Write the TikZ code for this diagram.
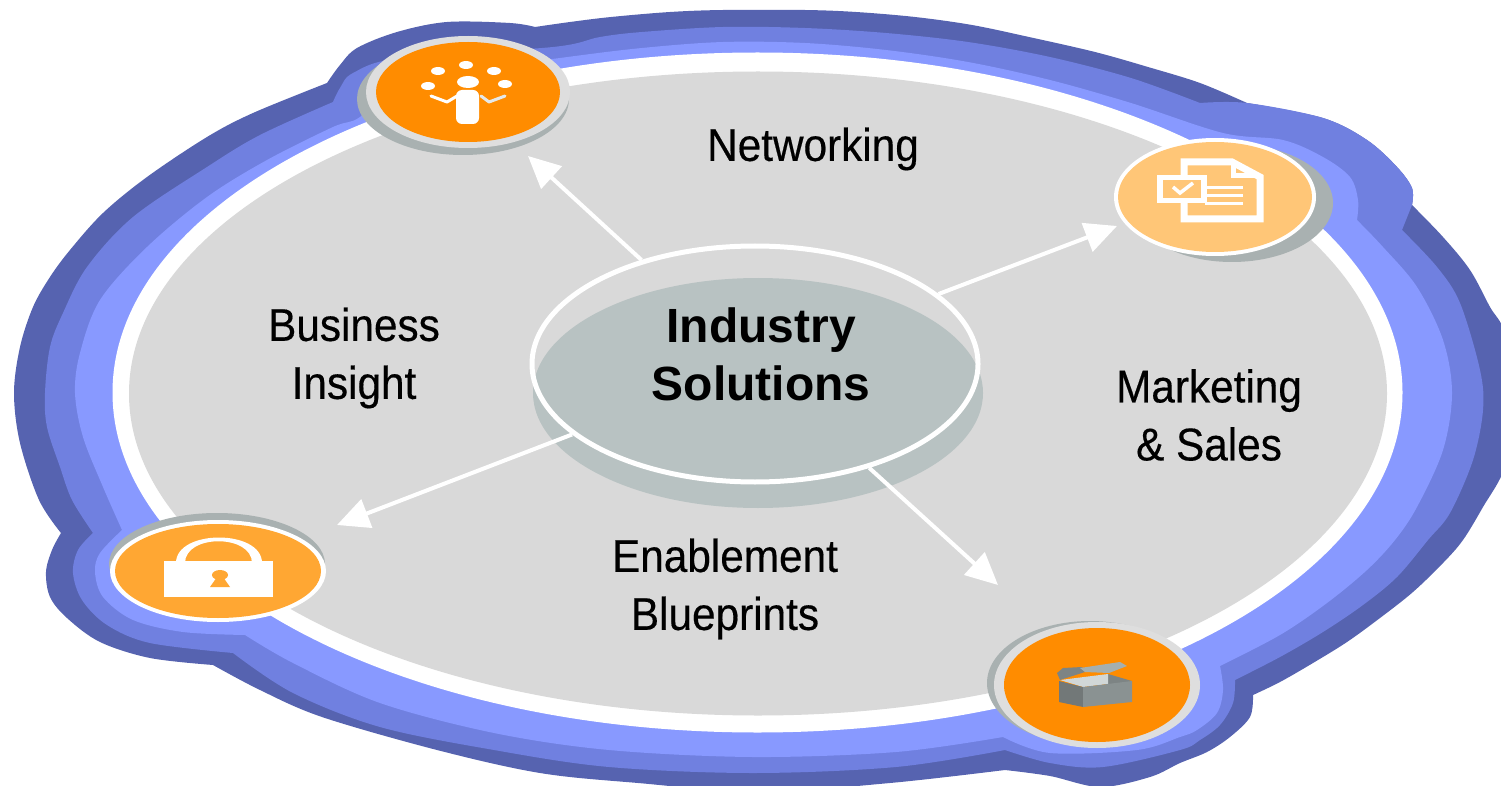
\documentclass[tikz,border=0pt]{standalone}
\usepackage{fontspec}
\setmainfont{Liberation Sans}
\newfontfamily\lblfont[FakeStretch=0.92,FakeBold=0.35]{Liberation Sans}
\usetikzlibrary{shapes.geometric,arrows.meta}
\definecolor{bandDark}{HTML}{5663B0}
\definecolor{bandMid}{HTML}{7080E0}
\definecolor{bandLight}{HTML}{8899FF}
\definecolor{plate}{HTML}{D9D9D9}
\definecolor{hubGray}{HTML}{B8C2C2}
\definecolor{shadowGray}{HTML}{A9B1B1}
\definecolor{rim}{HTML}{DEDEDE}
\definecolor{orA}{HTML}{FF8C00}
\definecolor{orB}{HTML}{FFC677}
\definecolor{orC}{HTML}{FFA733}
\tikzset{
  lbl/.style={font=\lblfont\fontsize{46}{58}\selectfont,align=center,text=black,inner sep=0pt},
  hubtxt/.style={font=\bfseries\fontsize{48}{58}\selectfont,align=center,text=black,inner sep=0pt},
  spoke/.style={draw=white,line width=4pt,-{Triangle[length=32pt,width=30pt]}},
  hubring/.style={ellipse,draw=white,line width=5pt,minimum width=446pt,minimum height=236pt,inner sep=0pt},
  wstroke/.style={draw=white,line join=miter},
  sm/.style={smooth,tension=.55}
}
\begin{document}
\begin{tikzpicture}[x=1pt,y=-1pt]
\useasboundingbox (0,0) rectangle (1501,786);
\clip (0,0) rectangle (1501,786);
% bands
\fill[bandDark]
  plot[sm] coordinates {(61,533)(39,500)(20,443)(14,393)(20,347)(33,307)(50,277)(70,250)(103,213)(147,177)(207,137)(253,113)(327,83)}
  -- plot[sm] coordinates {(327,83)(340,65)(357,48)(397,32)(447,22)(510,23)(535,27)}
  -- plot[sm] coordinates {(535,27)(570,22)(611,17)(670,12)(723,10)(805,10)(856,12)(915,17)(972,25)(1029,37)(1095,52)(1148,67)(1200,83)(1247,103)}
  -- plot[sm] coordinates {(1247,103)(1323,118)(1367,140)(1397,167)(1412,188)(1412,205)}
  -- plot[sm] coordinates {(1412,205)(1443,237)(1470,270)(1490,307)(1505,333)(1520,400)(1505,467)(1483,507)(1463,540)(1443,563)(1413,592)(1380,618)(1347,642)(1313,663)(1280,682)(1253,695)}
  -- plot[sm] coordinates {(1253,695)(1250,717)(1230,737)(1207,752)(1180,763)(1150,777)(1100,787)(1050,776)(1005,770)}
  -- plot[sm] coordinates {(1005,770)(890,783)(760,792)(638,783)(540,773)(437,750)(322,717)(260,690)(213,665)}
  -- plot[sm] coordinates {(213,665)(150,658)(100,642)(67,618)(50,597)(46,572)(52,550)(61,533)} -- cycle;
\fill[bandMid]
  plot[sm] coordinates {(93,533)(72,500)(60,467)(47,427)(45,393)(50,347)(63,313)(87,267)(133,217)(207,167)(260,135)(333,102)}
  -- plot[sm] coordinates {(333,102)(340,88)(353,73)(400,58)(553,47)(600,37)(642,32)(723,27)(805,28)(886,33)(968,42)(1050,57)(1131,78)(1200,103)}
  -- plot[sm] coordinates {(1200,103)(1247,103)(1323,118)(1367,140)(1397,167)(1412,188)(1412,205)}
  -- (1402,230)
  -- plot[sm] coordinates {(1402,230)(1437,267)(1460,303)(1480,370)(1483,410)(1473,460)(1450,513)(1428,540)(1397,577)(1363,605)(1323,632)(1280,657)(1235,680)}
  -- plot[sm] coordinates {(1235,680)(1233,703)(1220,725)(1200,740)(1180,750)(1103,767)(1050,763)(1005,750)}
  -- plot[sm] coordinates {(1005,750)(896,767)(753,773)(609,767)(494,750)(380,727)(293,693)(233,653)}
  -- plot[sm] coordinates {(233,653)(150,643)(107,625)(82,600)(73,573)(78,550)(93,533)} -- cycle;
\fill[bandLight]
  plot[sm] coordinates {(122,530)(103,487)(83,437)(75,393)(80,353)(100,300)(147,247)(207,197)(267,160)(333,127)(360,117)(400,80)(560,58)(642,48)(723,42)(805,43)(886,50)(968,62)(1050,80)(1131,103)(1223,133)(1283,140)(1323,157)(1350,177)(1358,200)(1357,220)}
  -- plot[sm] coordinates {(1357,220)(1383,247)(1417,287)(1443,340)(1452,393)(1443,450)(1417,507)(1395,540)(1367,570)(1327,603)(1280,635)(1220,666)}
  -- plot[sm] coordinates {(1220,666)(1223,690)(1217,713)(1197,730)(1180,737)(1137,750)(1050,753)(1003,737)}
  -- plot[sm] coordinates {(1003,737)(896,752)(753,757)(609,750)(494,733)(380,703)(293,663)(245,635)}
  -- plot[sm] coordinates {(245,635)(183,632)(133,620)(103,597)(95,572)(100,553)(122,530)} -- cycle;
% plate
\fill[white] (757.5,392.5) ellipse [x radius=645pt,y radius=340pt];
\fill[plate] (758,393.5) ellipse [x radius=629pt,y radius=322pt];
% hub
\fill[hubGray] (758,393) ellipse [x radius=225pt,y radius=115pt];
\node[hubring] (hub) at (755,364) {};
\node[hubtxt] (hubtext) at (761,354) {Industry\\Solutions};
% arrows
\coordinate (tipA) at (528,156);
\coordinate (tipB) at (1117,226);
\coordinate (tipC) at (337,525);
\coordinate (tipD) at (998,585);
\draw[spoke] (hub) -- (tipA);
\draw[spoke] (hub) -- (tipB);
\draw[spoke] (hub) -- (tipC);
\draw[spoke] (hub) -- (tipD);
% icon 1 juggler
\fill[shadowGray] (463,99) ellipse [x radius=106pt,y radius=56pt];
\fill[rim] (468,92) ellipse [x radius=102pt,y radius=56pt];
\fill[orA] (468,92) ellipse [x radius=92pt,y radius=50pt];
\foreach \px/\py in {438/71,466/65,494/71,505/84,428/86}
  \fill[white] (\px,\py) ellipse [x radius=7pt,y radius=4pt];
\fill[white] (468,82) ellipse [x radius=11pt,y radius=6pt];
\fill[white,rounded corners=6pt] (456,90) rectangle (479,124);
\draw[white,line width=3pt,line cap=round,line join=round] (431,96) -- (447,102) -- (457,96);
\draw[white!70!shadowGray,line width=3pt,line cap=round,line join=round] (481,96) -- (489,102) -- (505,96);
% icon 2 document
\fill[shadowGray] (1232,203) ellipse [x radius=101pt,y radius=59pt];
\fill[white] (1215,197) ellipse [x radius=101pt,y radius=59pt];
\fill[orB] (1215,197) ellipse [x radius=97pt,y radius=55pt];
\draw[wstroke,line width=7pt] (1184,162) -- (1232,162) -- (1260,177) -- (1260,219) -- (1184,219) -- cycle;
\draw[wstroke,line width=5pt] (1233,163) -- (1233,176) -- (1258,176);
\fill[white] (1157,175) rectangle (1207,203);
\fill[orB] (1163,180) rectangle (1201,198);
\draw[white,line width=3.5pt] (1173,187) -- (1180,193) -- (1193,183);
\fill[white] (1207,186.5) rectangle (1243,189.5);
\fill[white] (1207,194.5) rectangle (1243,197.5);
\fill[white] (1205,202.5) rectangle (1243,205.5);
% icon 3 lock
\fill[shadowGray] (217,564) ellipse [x radius=108pt,y radius=51pt];
\fill[white] (218,571) ellipse [x radius=108pt,y radius=51pt];
\fill[orC] (218,571) ellipse [x radius=103pt,y radius=47pt];
\fill[white,even odd rule] (176,563) .. controls (176,529) and (262,529) .. (262,563) -- cycle
  (185,563) .. controls (185,534) and (252,534) .. (252,563) -- cycle;
\fill[white] (164,561) rectangle (273,597);
\fill[orC] (220,575) ellipse [x radius=8pt,y radius=5pt];
\fill[orC] (217,577) -- (223,577) -- (230,587) -- (210,587) -- cycle;
% icon 4 box
\fill[shadowGray] (1090,683) ellipse [x radius=103pt,y radius=62pt];
\fill[rim] (1097,685) ellipse [x radius=103pt,y radius=63pt];
\fill[orA] (1097,685) ellipse [x radius=93pt,y radius=57pt];
\fill[black!32!hubGray] (1108,674) -- (1132,681) -- (1108,688) -- cycle;
\fill[white!35!hubGray] (1060,680) -- (1108,674) -- (1108,684) -- (1083,687) -- cycle;
\fill[black!32!hubGray] (1057,673) -- (1063,668) -- (1082,667) -- (1085,672) -- (1060,680) -- cycle;
\fill[black!10!hubGray] (1080,668) -- (1120,662) -- (1127,666) -- (1109,673) -- (1085,672) -- cycle;
\fill[black!38!hubGray] (1059,681) -- (1083,687) -- (1083,707) -- (1059,702) -- cycle;
\fill[black!25!hubGray] (1083,687) -- (1132,681) -- (1132,702) -- (1083,707) -- cycle;
% labels
\node[lbl] (netw) at (813,149) {Networking};
\node[lbl] (biz) at (354,358) {Business\\Insight};
\node[lbl] (mkt) at (1209,415) {Marketing\\\& Sales};
\node[lbl] (ena) at (725,589) {Enablement\\Blueprints};
\end{tikzpicture}
\end{document}
